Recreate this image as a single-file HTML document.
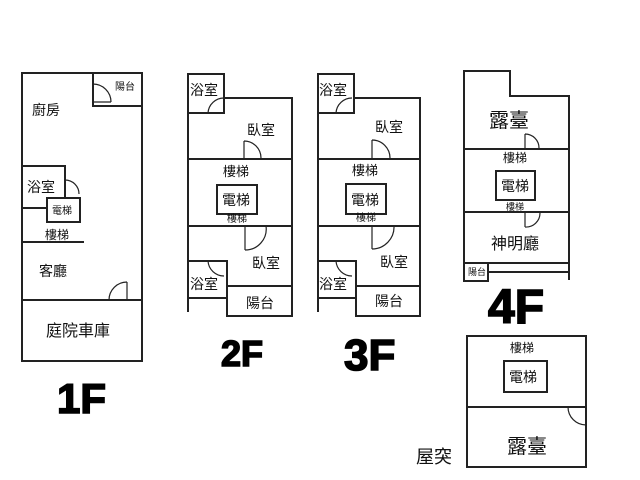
<!DOCTYPE html>
<html><head><meta charset="utf-8"><style>
html,body{margin:0;padding:0;background:#fff;}
svg{display:block}
text{font-family:"Liberation Sans","Noto Sans CJK TC",sans-serif;fill:#111}
.b{font-weight:bold;stroke:#000;stroke-width:1.6;fill:#000}
</style></head><body>
<svg width="640" height="480" viewBox="0 0 640 480" xmlns="http://www.w3.org/2000/svg">
<g fill="none" stroke="#222" stroke-width="2">
<!-- 1F -->
<rect x="22" y="73" width="120" height="288"/>
<path d="M93 73V106H142"/>
<path d="M93 102H111 M93 84A18 18 0 0 1 111 102" stroke-width="1.2"/>
<path d="M22 166H65V198 M22 208H47"/>
<rect x="47" y="198" width="33" height="24"/>
<path d="M65 180A14 14 0 0 1 79 194" stroke-width="1.2"/>
<path d="M22 242H84"/>
<path d="M22 300H142"/>
<path d="M127 282V300 M109 300A18 18 0 0 1 127 282" stroke-width="1.2"/>
<!-- 2F -->
<path d="M188 74H224V113H188Z"/>
<path d="M188 113V312 M224 98H292V316H227V286H292 M188 159H292 M188 226H292"/>
<path d="M188 261H227V298H188"/>
<path d="M208 113A16 16 0 0 1 224 98" stroke-width="1.2"/>
<rect x="217" y="185" width="40" height="29"/>
<path d="M244 141V159 M244 141A17 17 0 0 1 261 158 M245 226V250 M245 250A21 21 0 0 0 266 226" stroke-width="1.2"/>
<path d="M208 261A16 16 0 0 0 224 276" stroke-width="1.2"/>
<!-- 3F -->
<path d="M318 74H354V113H318Z"/>
<path d="M318 113V312 M354 98H420V316H356V286H420 M318 159H420 M318 226H420"/>
<path d="M318 261H356V298H318"/>
<path d="M336 113A16 16 0 0 1 352 98" stroke-width="1.2"/>
<rect x="346" y="184" width="40" height="30"/>
<path d="M372 140V158 M372 140A18 18 0 0 1 390 158 M372 226V249 M372 249A22 22 0 0 0 394 226" stroke-width="1.2"/>
<path d="M336 261A16 16 0 0 0 352 276" stroke-width="1.2"/>
<!-- 4F -->
<path d="M464 281V71H510V96H569V280 M464 149H569 M464 212H569 M464 263H569 M488 272H569 M464 263V281H488V263"/>
<rect x="496" y="171" width="39" height="29"/>
<path d="M525 134V149 M525 134A14 14 0 0 1 539 148 M525 212V227 M525 227A14 14 0 0 0 540 213" stroke-width="1.2"/>
<!-- Roof -->
<rect x="467" y="336" width="119" height="131"/>
<path d="M467 407H586"/>
<rect x="504" y="361" width="43" height="31"/>
<path d="M586 407V425 M568 407A18 18 0 0 0 586 425" stroke-width="1.2"/>
</g>
<g font-size="14">
<text x="32" y="115">廚房</text>
<text x="115" y="90" font-size="10">陽台</text>
<text x="27" y="192">浴室</text>
<text x="52" y="214" font-size="10">電梯</text>
<text x="45" y="239" font-size="12">樓梯</text>
<text x="39" y="276">客廳</text>
<text x="46" y="336" font-size="16">庭院車庫</text>

<text x="190" y="95">浴室</text>
<text x="247" y="135">臥室</text>
<text x="223" y="176" font-size="13">樓梯</text>
<text x="222" y="205">電梯</text>
<text x="227" y="222" font-size="10">樓梯</text>
<text x="252" y="268">臥室</text>
<text x="190" y="289">浴室</text>
<text x="246" y="308">陽台</text>

<text x="319" y="95">浴室</text>
<text x="375" y="132">臥室</text>
<text x="352" y="175" font-size="13">樓梯</text>
<text x="351" y="205">電梯</text>
<text x="356" y="221" font-size="10">樓梯</text>
<text x="380" y="267">臥室</text>
<text x="319" y="289">浴室</text>
<text x="375" y="306">陽台</text>

<text x="489" y="127" font-size="20">露臺</text>
<text x="503" y="162" font-size="12">樓梯</text>
<text x="501" y="191">電梯</text>
<text x="506" y="210" font-size="9">樓梯</text>
<text x="491" y="249" font-size="16">神明廳</text>
<text x="468" y="275" font-size="9">陽台</text>

<text x="510" y="352" font-size="12">樓梯</text>
<text x="509" y="382">電梯</text>
<text x="507" y="453" font-size="20">露臺</text>
<text x="416" y="463" font-size="18">屋突</text>
</g>
<text class="b" x="57" y="413" font-size="42">1F</text>
<text class="b" x="221" y="366" font-size="36">2F</text>
<text class="b" x="344" y="370" font-size="44">3F</text>
<text class="b" x="488" y="323" font-size="48">4F</text>
</svg>
</body></html>
